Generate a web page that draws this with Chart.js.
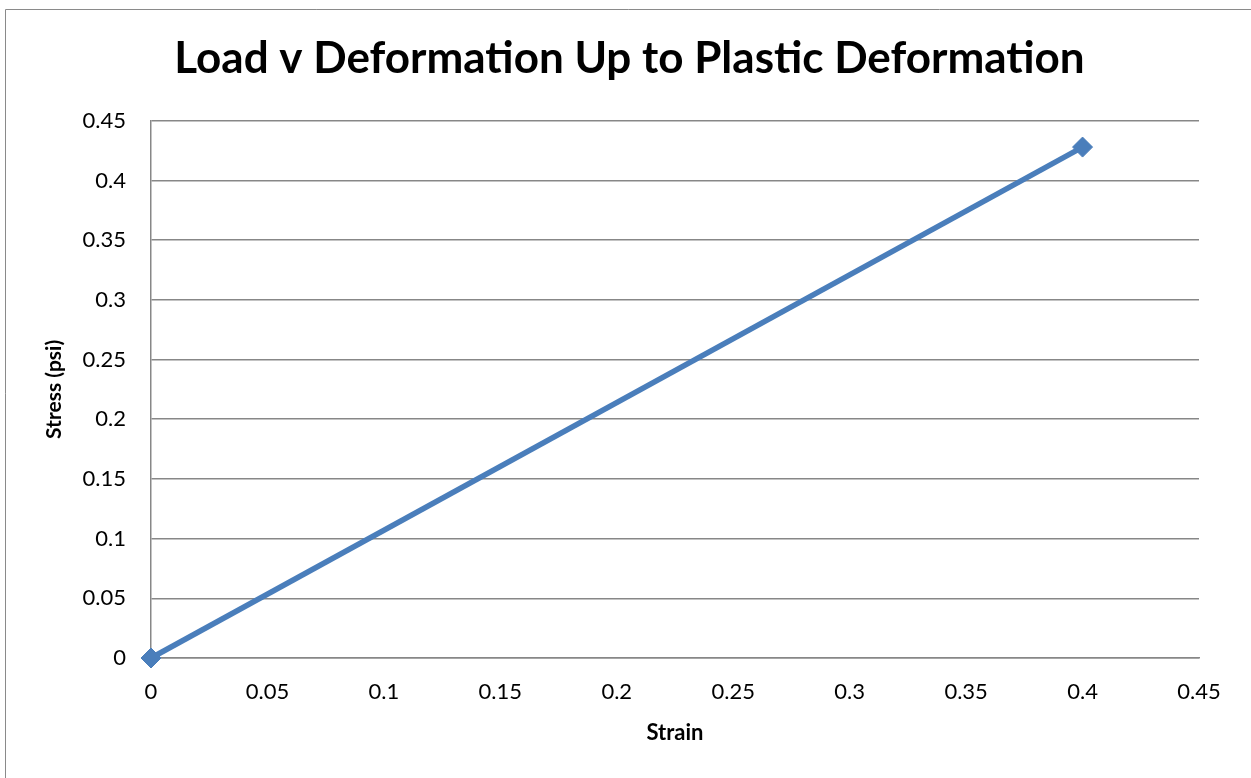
<!DOCTYPE html>
<html>
<head>
<meta charset="utf-8">
<script src="https://cdn.jsdelivr.net/npm/chart.js@4.4.0/dist/chart.umd.min.js"></script>
<style>
html,body{margin:0;padding:0;background:#fff;}
canvas{display:block;}
</style>
</head>
<body>
<canvas id="c" width="1251" height="778"></canvas>
<script>
const titleText = "Load v Deformation Up to Plastic Deformation";
const xAxisTitle = "Strain";
const yAxisTitle = "Stress (psi)";
const strain = [0, 0.4];
const stress = [0, 0.428];
const xTickLabels = ["0","0.05","0.1","0.15","0.2","0.25","0.3","0.35","0.4","0.45"];
const yTickLabels = ["0","0.05","0.1","0.15","0.2","0.25","0.3","0.35","0.4","0.45"];

const FONT = "Lato, 'Open Sans', 'Liberation Sans', sans-serif";

const bgPlugin = {
  id: 'bg',
  beforeDraw(chart) {
    const ctx = chart.ctx;
    ctx.save();
    ctx.fillStyle = '#ffffff';
    ctx.fillRect(0, 0, chart.width, chart.height);
    ctx.strokeStyle = '#8a8a8a';
    ctx.lineWidth = 1;
    ctx.beginPath();
    ctx.moveTo(5.5, chart.height);
    ctx.lineTo(5.5, 9.5);
    ctx.lineTo(chart.width, 9.5);
    ctx.stroke();
    ctx.restore();
  }
};

new Chart(document.getElementById('c'), {
  type: 'scatter',
  data: {
    datasets: [{
      data: strain.map((x, i) => ({x: x, y: stress[i]})),
      showLine: true,
      clip: false,
      borderColor: '#4A7EBB',
      backgroundColor: '#4A7EBB',
      borderWidth: 5.5,
      pointStyle: 'rectRot',
      pointRadius: 10,
      pointHoverRadius: 10,
      pointBorderWidth: 1,
      pointBorderColor: '#4A7EBB'
    }]
  },
  options: {
    responsive: false,
    animation: false,
    devicePixelRatio: 1,
    layout: { padding: { left: 60, right: 52, top: 20, bottom: 20 } },
    plugins: {
      legend: { display: false },
      tooltip: { enabled: false },
      title: {
        display: true,
        text: titleText,
        color: '#000',
        font: { family: FONT, size: 44, weight: 'bold', lineHeight: 1.2 },
        padding: { top: 12, bottom: 36 }
      }
    },
    scales: {
      x: {
        type: 'linear',
        min: 0, max: 0.45,
        afterFit(scale) { scale.height = 100; },
        ticks: {
          stepSize: 0.05,
          padding: 21,
          color: '#000',
          font: { family: FONT, size: 22 },
          maxRotation: 0,
          callback: (v, i) => xTickLabels[i]
        },
        grid: { display: false, drawTicks: false },
        border: { display: true, color: '#878787', width: 1.5 },
        title: {
          display: true,
          text: xAxisTitle,
          color: '#000',
          font: { family: FONT, size: 22, weight: 'bold', lineHeight: 1.2 },
          padding: { top: 0, bottom: 12 }
        }
      },
      y: {
        type: 'linear',
        min: 0, max: 0.45,
        afterFit(scale) { scale.width = 91; },
        ticks: {
          stepSize: 0.05,
          padding: 25,
          color: '#000',
          font: { family: FONT, size: 22 },
          callback: (v, i) => yTickLabels[i]
        },
        grid: { display: true, color: '#878787', lineWidth: 1.5, drawTicks: false },
        border: { display: true, color: '#878787', width: 1.5 },
        title: {
          display: true,
          text: yAxisTitle,
          color: '#000',
          font: { family: FONT, size: 21, weight: 'bold', lineHeight: 1.2 },
          padding: { top: -18, bottom: 0 }
        }
      }
    }
  },
  plugins: [bgPlugin]
});
</script>
</body>
</html>
